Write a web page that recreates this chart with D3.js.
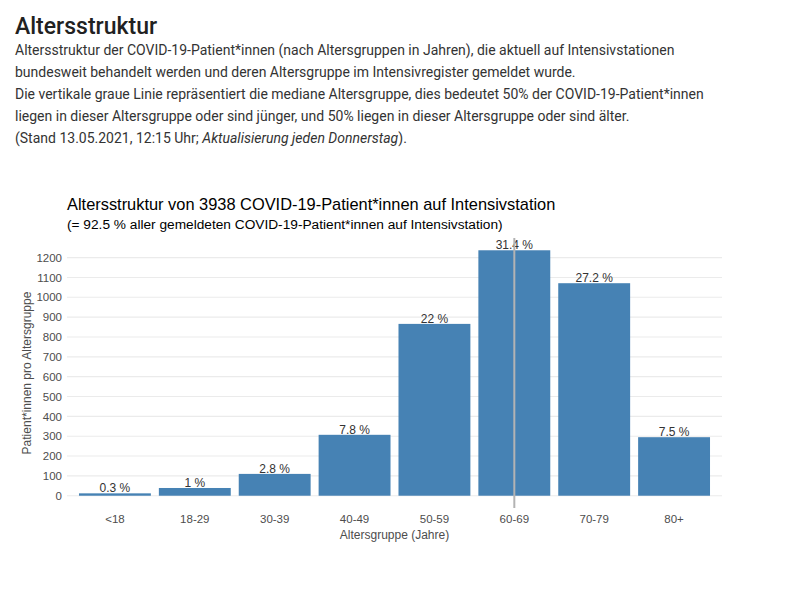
<!DOCTYPE html>
<html>
<head>
<meta charset="utf-8">
<script src="https://cdn.jsdelivr.net/npm/d3@7"></script>
<style>
  html, body { margin: 0; padding: 0; background: #ffffff; }
  svg { display: block; }
</style>
</head>
<body>
<svg id="chart" width="800" height="594"></svg>
<script>
// ---- data ----
const categories = ["<18", "18-29", "30-39", "40-49", "50-59", "60-69", "70-79", "80+"];
const patients = [12, 39, 110, 307, 866, 1237, 1071, 295];
const percentLabels = ["0.3 %", "1 %", "2.8 %", "7.8 %", "22 %", "31.4 %", "27.2 %", "7.5 %"];
const yTicks = [0, 100, 200, 300, 400, 500, 600, 700, 800, 900, 1000, 1100, 1200];
const medianGroup = "60-69";

const headerTitle = "Altersstruktur";
const headerLines = [
  [{t: "Altersstruktur der COVID-19-Patient*innen (nach Altersgruppen in Jahren), die aktuell auf Intensivstationen"}],
  [{t: "bundesweit behandelt werden und deren Altersgruppe im Intensivregister gemeldet wurde."}],
  [{t: "Die vertikale graue Linie repräsentiert die mediane Altersgruppe, dies bedeutet 50% der COVID-19-Patient*innen"}],
  [{t: "liegen in dieser Altersgruppe oder sind jünger, und 50% liegen in dieser Altersgruppe oder sind älter."}],
  [{t: "(Stand 13.05.2021, 12:15 Uhr; "}, {t: "Aktualisierung jeden Donnerstag", i: true}, {t: ")."}]
];
const chartTitle = "Altersstruktur von 3938 COVID-19-Patient*innen auf Intensivstation";
const chartSubtitle = "(= 92.5 % aller gemeldeten COVID-19-Patient*innen auf Intensivstation)";
const xTitle = "Altersgruppe (Jahre)";
const yTitle = "Patient*innen pro Altersgruppe";

// ---- drawing ----
const svg = d3.select("#chart");

// page header
svg.append("text")
  .attr("x", 15).attr("y", 34)
  .style("font-family", "Roboto, sans-serif")
  .style("font-size", "23px")
  .style("font-weight", 500)
  .attr("fill", "#212121")
  .text(headerTitle);

headerLines.forEach((parts, i) => {
  const t = svg.append("text")
    .attr("x", 15).attr("y", 55 + i * 22)
    .style("font-family", "Roboto, sans-serif")
    .style("font-size", "14px")
    .attr("fill", "#333333");
  parts.forEach(p => {
    t.append("tspan").text(p.t).style("font-style", p.i ? "italic" : "normal");
  });
});

// chart
const panel = {left: 67, right: 722, top: 238, bottom: 508};
const maxVal = d3.max(patients);

const x = d3.scaleBand()
  .domain(categories)
  .range([panel.left, panel.right])
  .paddingInner(0.1)
  .paddingOuter(0.15);

const y = d3.scaleLinear()
  .domain([-0.05 * maxVal, 1.05 * maxVal])
  .range([panel.bottom, panel.top]);

// titles
svg.append("text")
  .attr("x", panel.left).attr("y", 210)
  .style("font-family", "'Liberation Sans', Arial, sans-serif")
  .style("font-size", "16.4px")
  .attr("fill", "#000000")
  .text(chartTitle);

svg.append("text")
  .attr("x", panel.left).attr("y", 229)
  .style("font-family", "'Liberation Sans', Arial, sans-serif")
  .style("font-size", "13.7px")
  .attr("fill", "#000000")
  .text(chartSubtitle);

// gridlines
svg.append("g")
  .selectAll("line")
  .data(yTicks)
  .join("line")
  .attr("x1", panel.left).attr("x2", panel.right)
  .attr("y1", d => y(d)).attr("y2", d => y(d))
  .attr("stroke", "#ebebeb")
  .attr("stroke-width", 1.1);

// y axis (labels only)
const yAxis = d3.axisLeft(y).tickValues(yTicks).tickFormat(d3.format("d")).tickSize(0).tickPadding(5);
const gy = svg.append("g").attr("transform", `translate(${panel.left},0)`).call(yAxis);
gy.select(".domain").remove();
gy.selectAll("text")
  .style("font-family", "'Liberation Sans', Arial, sans-serif")
  .style("font-size", "11.5px")
  .attr("fill", "#4d4d4d");

// x axis (labels only)
const xAxis = d3.axisBottom(x).tickSize(0).tickPadding(7);
const gx = svg.append("g").attr("transform", `translate(0,${panel.bottom})`).call(xAxis);
gx.select(".domain").remove();
gx.selectAll("text")
  .style("font-family", "'Liberation Sans', Arial, sans-serif")
  .style("font-size", "11.5px")
  .attr("fill", "#4d4d4d");

// bars
svg.append("g")
  .selectAll("rect")
  .data(categories)
  .join("rect")
  .attr("x", d => x(d))
  .attr("width", x.bandwidth())
  .attr("y", (d, i) => y(patients[i]))
  .attr("height", (d, i) => y(0) - y(patients[i]))
  .attr("fill", "#4682b4");

// bar labels
svg.append("g")
  .selectAll("text")
  .data(categories)
  .join("text")
  .attr("x", d => x(d) + x.bandwidth() / 2)
  .attr("y", (d, i) => y(patients[i]) - 1)
  .attr("text-anchor", "middle")
  .style("font-family", "'Liberation Sans', Arial, sans-serif")
  .style("font-size", "12px")
  .attr("fill", "#333333")
  .text((d, i) => percentLabels[i]);

// median line
const mx = x(medianGroup) + x.bandwidth() / 2;
svg.append("line")
  .attr("x1", mx).attr("x2", mx)
  .attr("y1", panel.top).attr("y2", panel.bottom)
  .attr("stroke", "#b3b3b3")
  .attr("stroke-width", 2);

// axis titles
svg.append("text")
  .attr("x", (panel.left + panel.right) / 2).attr("y", 539)
  .attr("text-anchor", "middle")
  .style("font-family", "'Liberation Sans', Arial, sans-serif")
  .style("font-size", "12px")
  .attr("fill", "#4d4d4d")
  .text(xTitle);

svg.append("text")
  .attr("transform", `translate(31,${(panel.top + panel.bottom) / 2}) rotate(-90)`)
  .attr("text-anchor", "middle")
  .style("font-family", "'Liberation Sans', Arial, sans-serif")
  .style("font-size", "12px")
  .attr("fill", "#4d4d4d")
  .text(yTitle);
</script>
</body>
</html>
